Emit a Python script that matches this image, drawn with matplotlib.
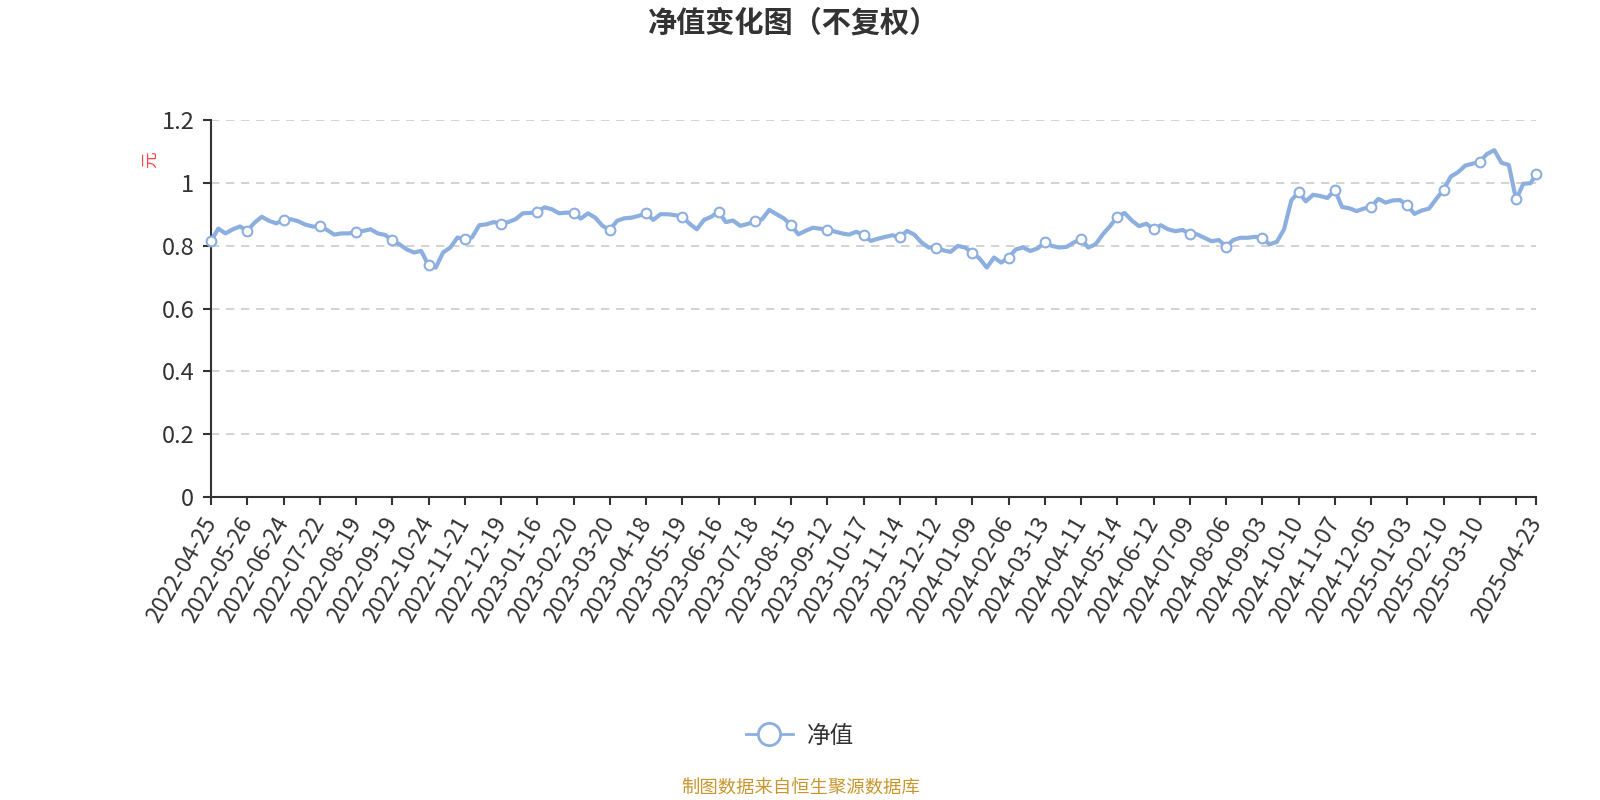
import numpy as np
import matplotlib
matplotlib.use('Agg')
from matplotlib import pyplot as plt
from matplotlib.lines import Line2D

plt.rcParams['font.family'] = ['Noto Sans CJK SC', 'DejaVu Sans']

#============================================================================
# Dados: índice do pregão (a cada 4 pregões) e valor do NAV
#============================================================================
idx = list(range(0, 729, 4)) + [731]
nav = [0.816, 0.855, 0.840, 0.853, 0.862, 0.848, 0.874, 0.893, 0.880, 0.872,
       0.883, 0.885, 0.879, 0.868, 0.862, 0.862, 0.851, 0.836, 0.840, 0.840,
       0.845, 0.848, 0.853, 0.840, 0.835, 0.818, 0.805, 0.789, 0.779, 0.784,
       0.738, 0.731, 0.779, 0.795, 0.827, 0.821, 0.827, 0.866, 0.869, 0.876,
       0.871, 0.876, 0.885, 0.904, 0.905, 0.909, 0.923, 0.917, 0.904, 0.906,
       0.906, 0.887, 0.904, 0.890, 0.864, 0.851, 0.880, 0.888, 0.890, 0.896,
       0.904, 0.883, 0.901, 0.901, 0.898, 0.893, 0.871, 0.853, 0.883, 0.893,
       0.909, 0.876, 0.881, 0.864, 0.870, 0.878, 0.885, 0.915, 0.901, 0.888,
       0.867, 0.837, 0.848, 0.858, 0.855, 0.851, 0.846, 0.840, 0.836, 0.845,
       0.835, 0.816, 0.823, 0.829, 0.834, 0.827, 0.848, 0.836, 0.811, 0.795,
       0.795, 0.786, 0.781, 0.800, 0.795, 0.779, 0.760, 0.731, 0.763, 0.747,
       0.763, 0.789, 0.795, 0.784, 0.792, 0.811, 0.800, 0.795, 0.797, 0.811,
       0.821, 0.795, 0.805, 0.837, 0.863, 0.893, 0.905, 0.881, 0.863, 0.871,
       0.853, 0.866, 0.853, 0.847, 0.851, 0.839, 0.837, 0.826, 0.815, 0.819,
       0.798, 0.819, 0.826, 0.826, 0.829, 0.826, 0.805, 0.813, 0.853, 0.945,
       0.972, 0.942, 0.963, 0.959, 0.953, 0.979, 0.924, 0.920, 0.911, 0.919,
       0.924, 0.950, 0.938, 0.945, 0.946, 0.929, 0.902, 0.913, 0.919, 0.950,
       0.979, 1.021, 1.035, 1.056, 1.062, 1.069, 1.093, 1.105, 1.065, 1.058,
       0.948, 0.998, 1.000, 1.028]

tick_pos = list(range(0, 721, 20)) + [731]
tick_labels = ['2022-04-25', '2022-05-26', '2022-06-24', '2022-07-22', '2022-08-19',
               '2022-09-19', '2022-10-24', '2022-11-21', '2022-12-19', '2023-01-16',
               '2023-02-20', '2023-03-20', '2023-04-18', '2023-05-19', '2023-06-16',
               '2023-07-18', '2023-08-15', '2023-09-12', '2023-10-17', '2023-11-14',
               '2023-12-12', '2024-01-09', '2024-02-06', '2024-03-13', '2024-04-11',
               '2024-05-14', '2024-06-12', '2024-07-09', '2024-08-06', '2024-09-03',
               '2024-10-10', '2024-11-07', '2024-12-05', '2025-01-03', '2025-02-10',
               '2025-03-10', '', '2025-04-23']

cor = '#8cafdf'
marcas = [k for k, i in enumerate(idx) if i % 20 == 0] + [len(idx) - 1]

fig = plt.figure(figsize=(16, 8), dpi=100)
ax = fig.add_axes([211/1600, 1 - 497/800, (1536 - 211)/1600, (497 - 120.4)/800])

ax.plot(idx, nav, color=cor, linewidth=3, marker='o', markevery=marcas,
        markersize=7, markerfacecolor='white', markeredgecolor=cor,
        markeredgewidth=1.5, zorder=3, clip_on=False)

ax.set_xlim(0, 731)
ax.set_ylim(0, 1.2)
ax.set_yticks([0, 0.2, 0.4, 0.6, 0.8, 1.0, 1.2])
ax.set_yticklabels(['0', '0.2', '0.4', '0.6', '0.8', '1', '1.2'])
ax.set_xticks(tick_pos)
ax.set_xticklabels(tick_labels, rotation=60, ha='right', va='center',
                   rotation_mode='anchor')
ax.tick_params(axis='x', length=6, width=1.5, color='#333333', pad=10,
               labelsize=16.5, labelcolor='#333333')
ax.tick_params(axis='y', length=6, width=1.5, color='#333333', pad=6,
               labelsize=17, labelcolor='#333333')

for s in ['top', 'right']:
    ax.spines[s].set_visible(False)
for s in ['left', 'bottom']:
    ax.spines[s].set_color('#333333')
    ax.spines[s].set_linewidth(1.5)

ax.yaxis.grid(True, linestyle=(0, (5, 4)), color='#cccccc', linewidth=1.2)
ax.set_axisbelow(True)

fig.text(794/1600, 1 - 23/800, '净值变化图（不复权）', ha='center', va='center',
         fontsize=21, fontweight='bold', color='#333333')
fig.text(150/1600, 1 - 160/800, '元', ha='center', va='center', rotation=90,
         fontsize=12, color='#ff4444')

h = Line2D([], [], color=cor, linewidth=2, marker='o', markersize=16,
           markerfacecolor='white', markeredgecolor=cor, markeredgewidth=2)
fig.legend([h], ['净值'], loc='center', bbox_to_anchor=(800/1600, 1 - 736/800),
           frameon=False, fontsize=17, handlelength=2.0, handletextpad=0.6,
           labelcolor='#333333')

fig.text(801/1600, 1 - 789/800, '制图数据来自恒生聚源数据库', ha='center', va='center',
         fontsize=13.2, color='#c9962e')

fig.savefig('out.png', dpi=100)
